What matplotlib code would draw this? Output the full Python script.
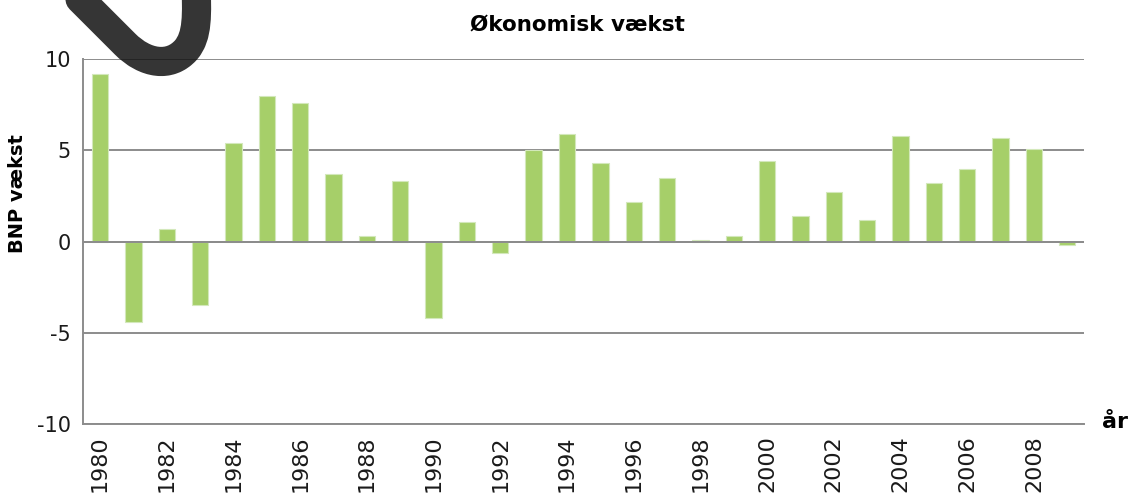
import numpy as np
import matplotlib.pyplot as plt
from matplotlib.path import Path
from matplotlib.patches import PathPatch

# Data: annual GDP growth (%)
years = list(range(1980, 2010))
growth = [9.2, -4.4, 0.7, -3.5, 5.4, 8.0, 7.6, 3.7, 0.3, 3.3,
          -4.2, 1.1, -0.6, 5.0, 5.9, 4.3, 2.2, 3.5, 0.1, 0.3,
          4.4, 1.4, 2.7, 1.2, 5.8, 3.2, 4.0, 5.7, 5.1, -0.2]
y_ticks = [-10, -5, 0, 5, 10]

W, H = 1129, 495
fig = plt.figure(figsize=(W / 100, H / 100), dpi=100)
ax = fig.add_axes([83.3 / W, 1 - 424 / H, (1084 - 83.3) / W, (424 - 59.3) / H])

x = np.arange(len(years))
ax.bar(x, growth, width=0.49, color='#a6cf69', edgecolor='#d3e8bb',
       linewidth=0.8, zorder=2)

grid_col = '#8c8c8c'
ax.set_ylim(-10, 10)
ax.set_xlim(-0.5, len(years) - 0.5)
ax.set_yticks(y_ticks)
ax.set_yticklabels([str(t) for t in y_ticks], fontsize=15, color='#1a1a1a')
ax.yaxis.grid(True, color=grid_col, linewidth=1.4, zorder=1)
ax.axhline(0, color=grid_col, linewidth=1.4, zorder=3)
ax.set_axisbelow(True)

ax.set_xticks(x[::2])
ax.set_xticklabels([str(y) for y in years[::2]], rotation=90,
                   fontsize=16, color='#1a1a1a', va='top')
ax.tick_params(axis='both', length=0)
ax.tick_params(axis='y', pad=9)
ax.tick_params(axis='x', pad=8)

for side in ['top', 'right']:
    ax.spines[side].set_visible(False)
for side in ['left', 'bottom']:
    ax.spines[side].set_color(grid_col)
    ax.spines[side].set_linewidth(1.4)

# Titles / labels
fig.text(577 / W, 1 - 25 / H, 'Økonomisk vækst', fontsize=15.5,
         fontweight='bold', ha='center', va='center')
fig.text(18 / W, 1 - 194 / H, 'BNP vækst', fontsize=14, fontweight='bold',
         rotation=90, ha='center', va='center')
fig.text(1115 / W, 1 - 422 / H, 'år', fontsize=16, fontweight='bold',
         ha='center', va='center')

# dark clip-shaped overlay in the top-left corner
pts = [(60, -21), (125, 44), (145, 64), (170, 68), (186, 50),
       (198, 36), (197, 15), (196, -20)]
codes = [Path.MOVETO, Path.LINETO, Path.CURVE4, Path.CURVE4, Path.CURVE4,
         Path.CURVE4, Path.CURVE4, Path.CURVE4]
verts = [(px / W, 1 - py / H) for px, py in pts]
clip = PathPatch(Path(verts, codes), facecolor='none', edgecolor='#111111',
                 alpha=0.85, linewidth=21, capstyle='round', joinstyle='round',
                 transform=fig.transFigure, zorder=10)
fig.patches.append(clip)

fig.savefig('out.png', dpi=100)
